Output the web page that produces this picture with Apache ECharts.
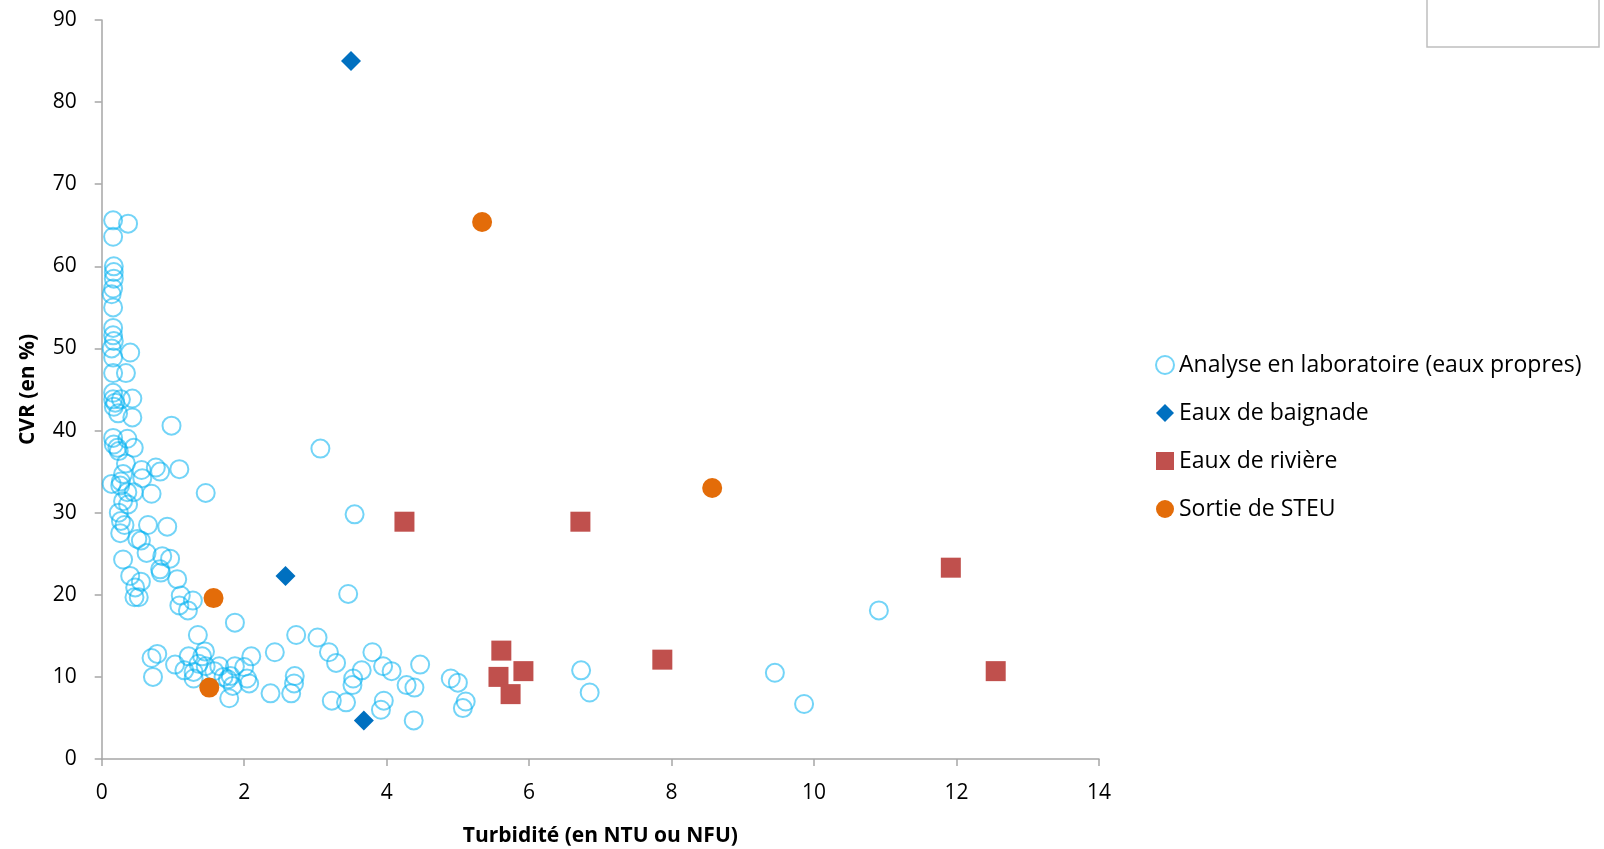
<!DOCTYPE html>
<html><head><meta charset="utf-8">
<script src="https://cdn.jsdelivr.net/npm/echarts@6/dist/echarts.min.js"></script>
<style>html,body{margin:0;padding:0;background:#fff}#c{width:1604px;height:849px}</style>
</head><body><div id="c"></div>
<script>
const seriesNames = ['Analyse en laboratoire (eaux propres)', 'Eaux de baignade', 'Eaux de rivière', 'Sortie de STEU'];
const xTicks = [0, 2, 4, 6, 8, 10, 12, 14];
const yTicks = [0, 10, 20, 30, 40, 50, 60, 70, 80, 90];

const labData = [
 [0.16,65.6],[0.37,65.2],[0.16,63.6],[0.17,60.0],[0.17,59.3],[0.17,58.5],[0.16,57.3],[0.14,56.6],[0.16,55.0],
 [0.16,52.5],[0.16,51.6],[0.17,50.9],[0.14,50.0],[0.16,48.9],[0.16,47.0],[0.40,49.5],[0.34,47.0],
 [0.16,44.6],[0.16,43.8],[0.19,43.4],[0.17,42.9],[0.27,43.8],[0.43,43.9],[0.23,42.1],[0.43,41.6],
 [0.16,39.1],[0.36,39.0],[0.17,38.3],[0.22,37.9],[0.24,37.5],[0.14,33.5],[0.45,37.9],[0.34,36.0],
 [0.30,34.7],[0.27,33.8],[0.26,33.3],[0.36,32.5],[0.45,32.5],[0.30,31.4],[0.24,30.0],[0.37,31.0],
 [0.27,29.0],[0.26,27.5],[0.32,28.5],[0.30,24.3],[0.40,22.3],[0.47,20.9],[0.46,19.7],[0.52,19.7],
 [0.55,21.6],[0.50,26.8],[0.55,26.6],[0.63,25.1],[0.56,35.2],[0.57,34.2],[0.76,35.5],[0.82,35.0],
 [0.70,32.3],[0.65,28.5],[0.92,28.3],[0.98,40.6],[1.09,35.3],[1.46,32.4],[0.85,24.7],[0.96,24.4],
 [0.82,23.1],[0.83,22.7],[1.06,21.9],[1.11,19.9],[1.28,19.3],[1.09,18.7],[1.21,18.1],[1.87,16.6],
 [3.07,37.8],[3.55,29.8],[3.46,20.1],[10.91,18.1],[1.35,15.1],[2.73,15.1],[3.03,14.8],
 [0.70,12.3],[0.78,12.8],[0.72,10.0],[1.03,11.5],[1.16,10.8],[1.22,12.5],[1.29,10.6],[1.29,9.8],
 [1.36,11.6],[1.41,12.5],[1.45,13.1],[1.46,11.3],[1.58,10.7],[1.65,11.3],[1.71,10.0],[1.77,9.7],
 [1.81,10.1],[1.84,8.9],[1.79,7.4],[1.87,11.3],[2.04,9.8],[2.07,9.2],[2.10,12.5],[2.00,11.2],
 [2.43,13.0],[2.37,8.0],[2.70,9.2],[2.71,10.1],[2.66,8.0],[3.19,13.0],[3.29,11.7],[3.53,9.8],
 [3.52,9.0],[3.23,7.1],[3.43,6.9],[3.65,10.8],[3.80,13.0],[3.95,11.3],[4.07,10.7],[3.96,7.1],
 [3.92,6.0],[4.28,9.0],[4.39,8.7],[4.47,11.5],[4.38,4.7],[4.90,9.8],[5.00,9.3],[5.11,7.0],
 [5.07,6.2],[6.73,10.8],[6.85,8.1],[9.45,10.5],[9.86,6.7]
];
const baignadeData = [[3.50,85.0],[2.58,22.3],[3.68,4.7]];
const riviereData = [[4.25,28.9],[6.72,28.9],[11.92,23.3],[12.55,10.7],[7.87,12.1],[5.61,13.2],[5.57,10.0],[5.92,10.7],[5.74,7.9]];
const steuData = [[5.34,65.4],[8.57,33.0],[1.57,19.6],[1.51,8.7]];

const FONT = 'Open Sans';
const chart = echarts.init(document.getElementById('c'), null, {renderer: 'canvas'});
const axisCommon = {
  splitLine: {show: false},
  axisLine: {show: true, onZero: false, lineStyle: {color: '#A6A6A6', width: 1.5}},
  axisTick: {show: true, length: 7, lineStyle: {color: '#A6A6A6', width: 1.5}},
  axisLabel: {color: '#000', fontSize: 21, fontFamily: FONT},
  nameTextStyle: {color: '#000', fontSize: 21, fontWeight: 'bold', fontFamily: FONT}
};
chart.setOption({
  animation: false,
  backgroundColor: '#fff',
  grid: {left: 101.7, right: 505, top: 20, bottom: 90, containLabel: false, outerBoundsMode: 'none'},
  xAxis: Object.assign({}, axisCommon, {
    type: 'value', min: xTicks[0], max: xTicks[xTicks.length - 1], interval: 2,
    name: 'Turbidité (en NTU ou NFU)', nameLocation: 'middle', nameGap: 67,
    axisLabel: Object.assign({}, axisCommon.axisLabel, {margin: 24})
  }),
  yAxis: Object.assign({}, axisCommon, {
    type: 'value', min: yTicks[0], max: yTicks[yTicks.length - 1], interval: 10,
    name: 'CVR (en %)', nameLocation: 'middle', nameGap: 63,
    axisLabel: Object.assign({}, axisCommon.axisLabel, {margin: 25})
  }),
  legend: {
    orient: 'vertical', left: 1150, top: 344, itemGap: 16, itemWidth: 18, itemHeight: 18,
    textStyle: {color: '#000', fontSize: 23, fontFamily: FONT, lineHeight: 32},
    data: seriesNames
  },
  graphic: [{type: 'rect', shape: {x: 1427, y: -2, width: 172, height: 49},
    style: {fill: '#fff', stroke: '#BFBFBF', lineWidth: 1.5}}],
  series: [
    {name: seriesNames[0], type: 'scatter', data: labData, symbol: 'circle', symbolSize: 18,
     itemStyle: {opacity: 1, color: 'rgba(255,255,255,0)', borderColor: 'rgba(0,176,240,0.55)', borderWidth: 2}},
    {name: seriesNames[1], type: 'scatter', data: baignadeData, symbol: 'diamond', symbolSize: [20, 20],
     itemStyle: {opacity: 1, color: '#0070C0'}},
    {name: seriesNames[2], type: 'scatter', data: riviereData, symbol: 'rect', symbolSize: 20,
     itemStyle: {opacity: 1, color: '#C0504D'}},
    {name: seriesNames[3], type: 'scatter', data: steuData, symbol: 'circle', symbolSize: 20,
     itemStyle: {opacity: 1, color: '#E36C09'}}
  ]
});
</script></body></html>
